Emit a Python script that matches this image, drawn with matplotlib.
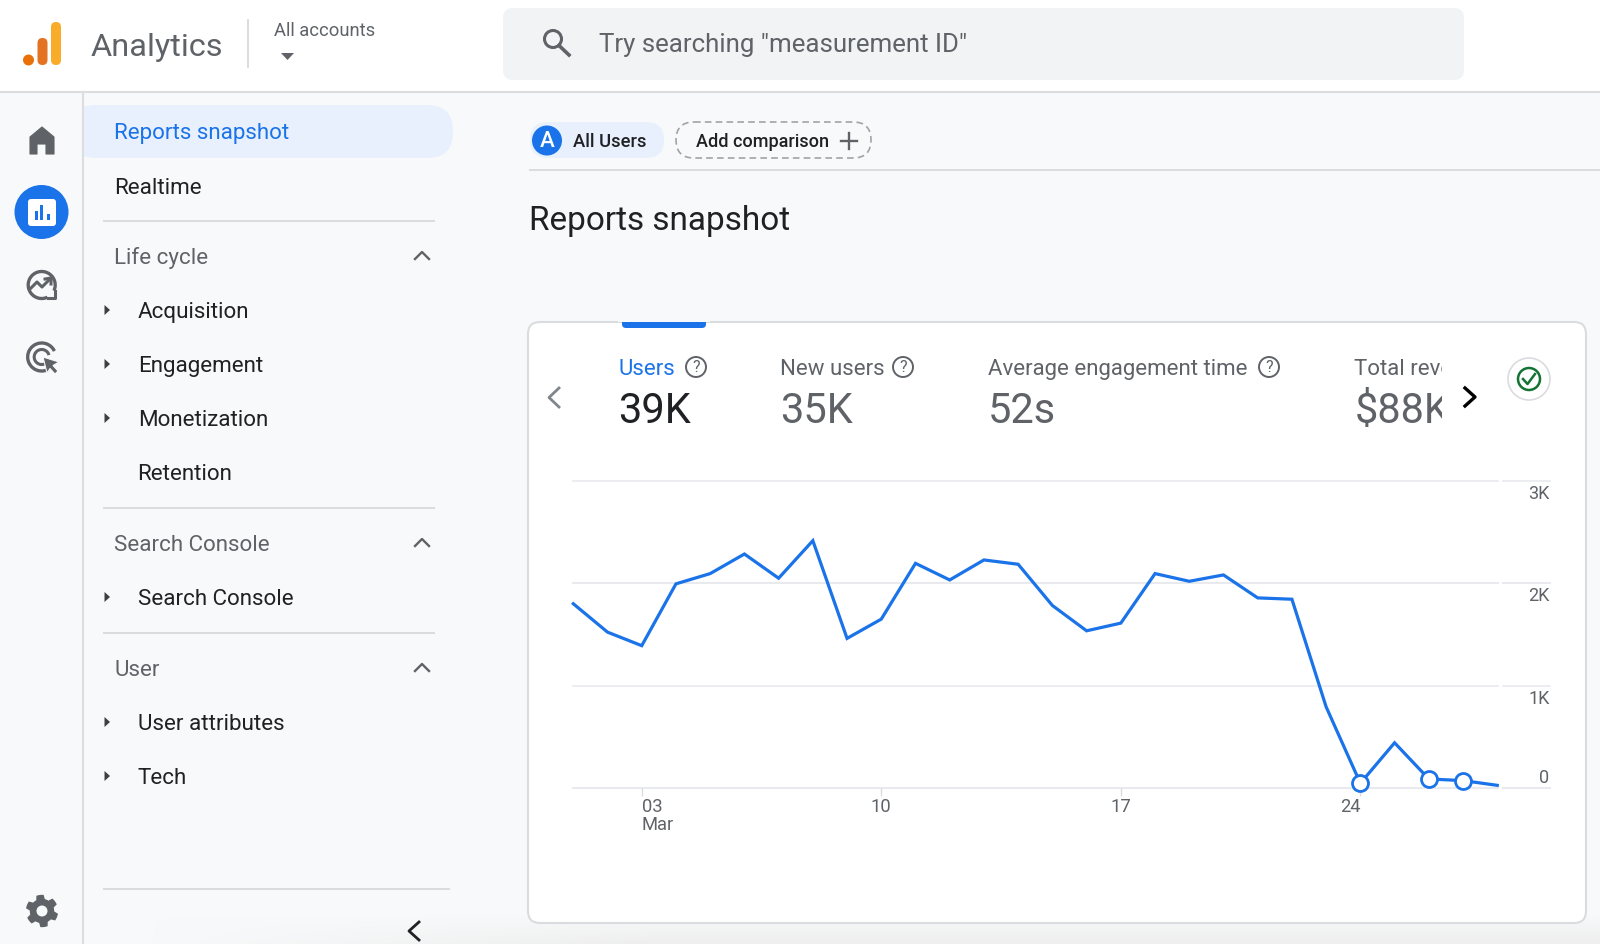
import numpy as np
import matplotlib
matplotlib.use("Agg")
import matplotlib.pyplot as plt
from matplotlib.patches import Circle, FancyBboxPatch, Polygon, Rectangle, Arc
from matplotlib.transforms import ScaledTranslation

plt.rcParams['font.family'] = ['Roboto', 'DejaVu Sans']

# data
days = list(range(1, 29))
users = [1800, 1523, 1391, 1994, 2094, 2285, 2049, 2415, 1462, 1650, 2194, 2032, 2227, 2185,
         1783, 1536, 1611, 2094, 2019, 2081, 1857, 1844, 794, 49, 444, 91, 75, 29]
marked_days = [24, 26, 27]
marked_users = [49, 91, 75]
x_ticks = [3, 10, 17, 24]
x_labels = ['03\nMar', '10', '17', '24']
y_ticks = [0, 1000, 2000, 3000]
y_labels = ['0', '1K', '2K', '3K']

# nav and scorecards
nav_headers = ['Life cycle', 'Search Console', 'User']
nav_items = ['Acquisition', 'Engagement', 'Monetization', 'Search Console', 'User attributes', 'Tech']
card_names = ['Users', 'New users', 'Average engagement time']
card_values = ['39K', '35K', '52s']

BLUE = '#1a73e8'
GRAY = '#5f6368'
LINE = '#dadce0'
DARK = '#202124'

fig = plt.figure(figsize=(16, 9.44), dpi=100, facecolor='#f8f9fa')
ui = fig.add_axes([0, 0, 1, 1])
ui.set_xlim(0, 1600)
ui.set_ylim(944, 0)
ui.set_autoscale_on(False)
ui.axis('off')


def box(x, y, w, h, r, fc, ec='none', lw=1, ls='-', z=1):
    p = FancyBboxPatch((x + r, y + r), w - 2 * r, h - 2 * r, boxstyle='round,pad=%g,rounding_size=%g' % (r, r),
                       fc=fc, ec=ec, lw=lw, ls=ls, zorder=z)
    ui.add_patch(p)
    return p


def label(x, y, s, size=16.1, color=DARK, **kw):
    return ui.text(x, y + 2.4, s, fontsize=size, color=color, va='center', ha=kw.pop('ha', 'left'), **kw)


def hline(x0, x1, y, color=LINE, lw=1.4):
    ui.plot([x0, x1], [y, y], color=color, lw=lw, solid_capstyle='butt', zorder=2)


def chevron(x, y, dx, dy, color=GRAY, lw=1.7):
    ui.plot([x - dx, x, x + dx], [y + dy, y, y + dy], color=color, lw=lw, zorder=3)


def chevron_side(x, y, dx, dy, color=GRAY, lw=1.7):
    ui.plot([x + dx, x, x + dx], [y - dy, y, y + dy], color=color, lw=lw, zorder=3)


def tri_right(x, y, color='#3c4043'):
    ui.add_patch(Polygon([(x - 2.5, y - 5), (x + 3, y), (x - 2.5, y + 5)], fc=color, ec='none', zorder=3))


def help_icon(x, y):
    ui.add_patch(Circle((x, y), 10, fc='none', ec=GRAY, lw=1.4, zorder=3))
    label(x, y - 2, '?', size=11.5, color=GRAY, ha='center', zorder=4)


# header
ui.add_patch(Rectangle((0, 0), 1600, 91, fc='white', ec='none', zorder=0))
hline(0, 1600, 91.5, color='#dcdde0', lw=1.5)
ui.add_patch(Circle((28.5, 60), 5.5, fc='#e8710a', ec='none', zorder=2))
box(37.5, 38, 10, 27, 5, '#e37222', z=2)
box(51, 22, 10, 43, 5, '#f9ab2a', z=2)
label(91, 45, 'Analytics', size=23.4, color=GRAY)
ui.plot([248, 248], [20, 67], color=LINE, lw=1.4)
label(274, 29, 'All accounts', size=13.2, color=GRAY)
ui.add_patch(Polygon([(281, 53), (294, 53), (287.5, 60)], fc=GRAY, ec='none'))

# search box
box(503, 8, 961, 72, 10, '#f1f3f4')
ui.add_patch(Circle((553, 39), 8.5, fc='none', ec=GRAY, lw=2.2, zorder=3))
ui.plot([559, 569], [45.5, 55], color=GRAY, lw=2.6, zorder=3)
label(599, 42.5, 'Try searching "measurement ID"', size=18.6, color=GRAY)

# bottom shading of the screenshot
yy, xx = np.mgrid[0:30, 0:1600]
fade = np.zeros((30, 1600, 4))
fade[..., :3] = 0.93
fade[..., 3] = (yy / 29.0) * np.clip((xx - 150) / 500.0, 0, 1) * 0.9
ui.imshow(fade, extent=(0, 1600, 944, 914), aspect='auto', zorder=0.5, interpolation='bilinear')

# left rail
ui.plot([83, 83], [92, 944], color='#dcdde0', lw=1.5, zorder=2)
ui.add_patch(Polygon([(30, 154), (30, 137), (42, 127), (54, 137), (54, 154), (46, 154), (46, 144), (37, 144), (37, 154)],
                     fc=GRAY, ec=GRAY, lw=0.8, joinstyle='round', zorder=3))
ui.add_patch(Circle((41.5, 212), 27, fc=BLUE, ec='none', zorder=3))
box(28, 199, 28, 27, 3, 'white', z=4)
for bx, by in [(36, 211), (41.7, 205), (48, 214)]:
    ui.add_patch(Rectangle((bx - 1.5, by), 3, 220 - by, fc=BLUE, ec='none', zorder=5))
# explore icon
ui.add_patch(Arc((41.7, 285), 27, 27, theta1=65, theta2=385, ec=GRAY, lw=2.4, zorder=3))
ui.plot([47.5, 54.5, 54.5], [297.5, 297.5, 291], color=GRAY, lw=2.2, zorder=3)
ui.plot([31, 37, 42, 50], [288, 282, 287, 279], color=GRAY, lw=2.2, zorder=4)
ui.plot([45, 51, 51], [279, 278, 284], color=GRAY, lw=2.2, zorder=4)
# advertising icon
ui.add_patch(Arc((41.7, 357), 28, 28, theta1=60, theta2=335, ec=GRAY, lw=2.4, zorder=3))
ui.add_patch(Arc((41.7, 357), 15, 15, theta1=60, theta2=345, ec=GRAY, lw=2.2, zorder=3))
ui.add_patch(Polygon([(43, 357), (59, 362), (53, 365.5), (58, 371), (55, 374), (50, 368.5), (47, 373)],
                     fc=GRAY, ec='#f8f9fa', lw=0.8, zorder=4))

# gear
ang = np.linspace(0, 2 * np.pi, 48, endpoint=False)
rad = np.where((np.arange(48) % 8) < 4, 15.5, 11.5)
ui.add_patch(Polygon(np.c_[42 + rad * np.cos(ang + 0.2), 911 + rad * np.sin(ang + 0.2)], fc=GRAY, ec=GRAY, lw=1, zorder=3))
ui.add_patch(Circle((42, 911), 5.5, fc='#f8f9fa', ec='none', zorder=4))

# nav panel
box(70, 105, 383, 53, 26, '#e8f0fe', z=1)
ui.add_patch(Rectangle((40, 100), 43.3, 62, fc='#f8f9fa', ec='none', zorder=1.5))
label(114, 131.5, 'Reports snapshot', color=BLUE)
label(114, 186, 'Realtime')
hline(103, 435, 220.5)
hline(103, 435, 507.5)
hline(103, 435, 632.5)
hline(103, 450, 889)

for name, y in zip(nav_headers, [256, 543, 668]):
    label(114, y, name, color=GRAY)
    chevron(422, y - 4, 7, 7)
for name, y in zip(nav_items, [310, 364, 418, 597, 722, 776]):
    label(138, y, name)
    tri_right(107, y)
label(137.5, 472, 'Retention')
chevron_side(409, 931, 10, 9, color=DARK, lw=2)

# top of main area
box(530, 122, 134, 36, 18, '#e8f0fe')
ui.add_patch(Circle((547, 140.5), 15, fc=BLUE, ec='none', zorder=3))
label(547, 139, 'A', size=16, color='white', ha='center', zorder=4, fontweight='medium')
label(573, 139.5, 'All Users', size=13.2, color=DARK, fontweight='medium')
box(676, 122, 195, 36, 18, 'none', ec='#a0a4a8', lw=1.2, ls=(0, (4, 2.5)))
label(696, 139.5, 'Add comparison', size=12.95, color=DARK, fontweight='medium')
ui.plot([841, 857], [141, 141], color=GRAY, lw=1.7)
ui.plot([849, 849], [133, 149], color=GRAY, lw=1.7)
hline(529, 1600, 170)
label(529, 218.5, 'Reports snapshot', size=24, color=DARK)

# card
box(528, 322, 1058, 601, 12, 'white', ec=LINE, lw=1.5)
ui.add_patch(FancyBboxPatch((626, 320), 76, 4, boxstyle='round,pad=4,rounding_size=4', fc=BLUE, ec='none', zorder=1.2))
ui.add_patch(Rectangle((618, 310), 92, 12, fc='#f8f9fa', ec='none', zorder=1.3))

name_x = [618, 780, 988]
help_x = [696, 903, 1269]
for i in range(3):
    label(name_x[i], 367.5, card_names[i], size=16, color=BLUE if i == 0 else GRAY)
    label(name_x[i], 409.5, card_values[i], size=30, color=DARK if i == 0 else GRAY)
    help_icon(help_x[i], 367)

clip = Rectangle((1350, 340), 91.5, 100, transform=ui.transData)
for y, txt, sz in [(367.5, 'Total revenue', 16), (409.5, '$88K', 30)]:
    t = label(1354.5, y, txt, size=sz, color=GRAY, clip_on=True)
    t.set_clip_path(clip)

chevron_side(549, 397.5, 10, 9.5, color='#80868b', lw=2)
ui.plot([1465, 1475, 1465], [388, 397, 406], color='black', lw=2.4, zorder=3)
ui.add_patch(Circle((1529, 379), 21, fc='white', ec=LINE, lw=1.2, zorder=3))
ui.add_patch(Circle((1529, 379), 11, fc='none', ec='#137333', lw=1.8, zorder=4))
ui.plot([1523, 1527.5, 1535], [379, 384, 374], color='#137333', lw=1.8, zorder=4)

# chart, pixel box chosen so day 1 lands on x=573 and 0..3K on y=788..481
px_day = 34.22
left, right = 573.3, 1549.5
top, bottom = 480.7, 788.3
ax = fig.add_axes([left / 1600, 1 - bottom / 944, (right - left) / 1600, (bottom - top) / 944])
ax.patch.set_alpha(0)
ax.set_xlim(1, 1 + (right - left) / px_day)
ax.set_ylim(0, 3000)
for s in ax.spines.values():
    s.set_visible(False)

for v in y_ticks:
    lw = 1.5 if v in (0, 2000) else 1.2
    ax.plot([1, 28.02], [v, v], color='#e8eaed', lw=lw, clip_on=False, zorder=1)
    ax.plot([28.18, ax.get_xlim()[1]], [v, v], color='#e8eaed', lw=lw, clip_on=False, zorder=1)

ax.plot(days, users, color=BLUE, lw=2.3, solid_joinstyle='miter', clip_on=False, zorder=3)
ax.plot(marked_days, marked_users, ls='none', marker='o', ms=11.5, mfc='white', mec=BLUE, mew=2,
        clip_on=False, zorder=4)

ax.set_xticks(x_ticks)
ax.set_xticklabels(x_labels, fontsize=13.2, color=GRAY, linespacing=1.05, va='top')
ax.tick_params(axis='x', length=6, width=1, color=LINE, pad=0.8)
for lab, ha in zip(ax.get_xticklabels(), ['left', 'center', 'center', 'right']):
    lab.set_ha(ha)

ax.yaxis.tick_right()
ax.set_yticks(y_ticks)
ax.set_yticklabels(y_labels, fontsize=13, color=GRAY)
ax.tick_params(axis='y', length=0, pad=0)
for lab, v in zip(ax.get_yticklabels(), y_ticks):
    lab.set_ha('right')
    off = 12.5 if v == 0 else -11
    lab.set_transform(lab.get_transform() + ScaledTranslation(0, off / 100, fig.dpi_scale_trans))

fig.savefig('out.png', dpi=100)
